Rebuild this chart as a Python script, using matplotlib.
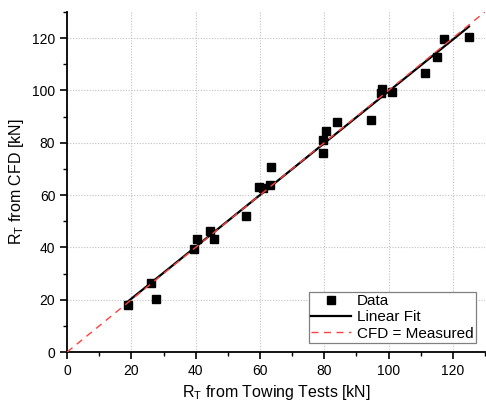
import numpy as np
import matplotlib.pyplot as plt
from matplotlib.ticker import MultipleLocator

plt.rcParams["font.family"] = ["Liberation Sans", "DejaVu Sans"]

# valores (kN)
rt_towing = [18.9, 26.2, 27.7, 39.6, 40.3, 44.4, 45.8, 55.6, 59.7, 61.0, 63.0,
             63.3, 79.5, 79.5, 80.6, 84.1, 94.5, 97.6, 98.1, 101.2, 111.3,
             115.1, 117.1, 125.0]
rt_cfd = [18.0, 26.5, 20.1, 39.4, 43.1, 46.4, 43.4, 52.0, 63.2, 62.8, 64.0,
          70.8, 76.2, 81.2, 84.6, 87.9, 88.6, 99.1, 100.5, 99.5, 106.5,
          112.8, 119.5, 120.4]

x = np.array(rt_towing)
y = np.array(rt_cfd)

fig = plt.figure(figsize=(4.86, 4.08), dpi=100)
ax = fig.add_axes([0.138, 0.137, 0.860, 0.834])

ax.plot(x, y, "s", color="black", ms=6, label="Data", zorder=3)

a, b = np.polyfit(x, y, 1)
xf = np.array([x.min(), x.max()])
ax.plot(xf, a * xf + b, "-", color="black", lw=1.6, label="Linear Fit", zorder=4)

ref = np.array([0, 130])
ax.plot(ref, ref, "--", color="#ff4040", lw=1.0, dashes=(5, 4),
        label="CFD = Measured", zorder=5)

ax.set_xlim(0, 130)
ax.set_ylim(0, 130)
ax.xaxis.set_major_locator(MultipleLocator(20))
ax.yaxis.set_major_locator(MultipleLocator(20))
ax.xaxis.set_minor_locator(MultipleLocator(10))
ax.yaxis.set_minor_locator(MultipleLocator(10))
ax.tick_params(which="major", direction="out", length=5, width=1.2, labelsize=10)
ax.tick_params(which="minor", direction="out", length=3, width=1.0)
ax.spines["top"].set_visible(False)
ax.spines["right"].set_visible(False)
for s in ("left", "bottom"):
    ax.spines[s].set_linewidth(1.3)
ax.grid(True, which="major", linestyle=(0, (1, 1.5)), color="#c0c0c0", lw=0.8)
ax.set_axisbelow(True)

ax.set_xlabel("R$_\\mathregular{T}$ from Towing Tests [kN]", fontsize=11.5)
ax.set_ylabel("R$_\\mathregular{T}$ from CFD [kN]", fontsize=11.5)

leg = ax.legend(loc="lower right", fontsize=11, fancybox=False, framealpha=1,
                edgecolor="#808080", handlelength=2.6, borderpad=0.15,
                labelspacing=0.15, handletextpad=0.4, borderaxespad=0.6)
leg.get_frame().set_linewidth(0.9)

fig.savefig("out.png", dpi=100)
